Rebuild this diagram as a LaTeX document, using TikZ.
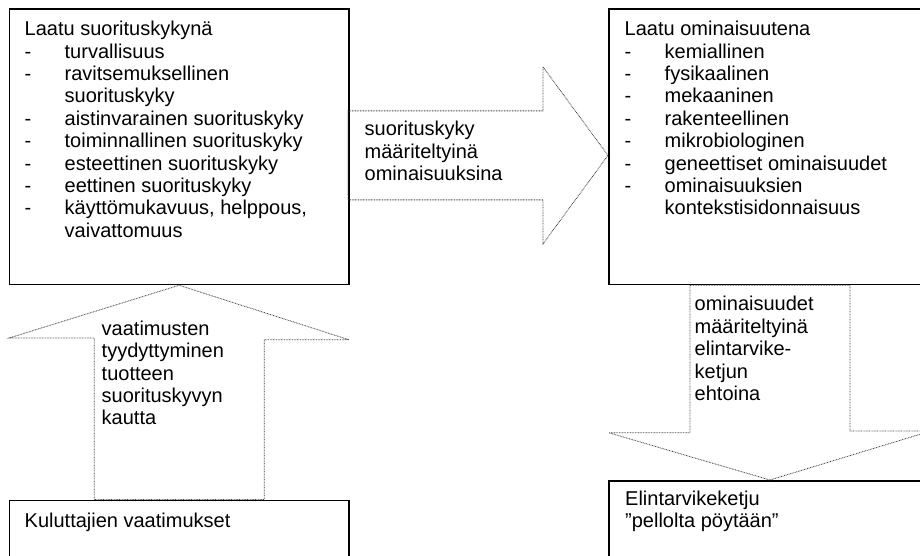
\documentclass[tikz,border=0pt]{standalone}
\usepackage{fontspec}
\setmainfont{Liberation Sans}
\usepackage{tikz}
\usetikzlibrary{calc}
\tikzset{
  qBox/.style={draw=black, line width=1.8pt, inner sep=0pt, anchor=north west},
  qText/.style={font=\fontsize{20}{22.4}\selectfont, align=left, inner sep=0pt, anchor=north west},
  flowArrow/.style={draw=black!75, line width=0.8pt, dash pattern=on 0.8pt off 0.8pt}
}
\newcommand{\dashitem}[1]{\makebox[40pt][l]{-}#1}
\newcommand{\itemcont}[1]{\makebox[40pt][l]{}#1}
\newcommand{\firstline}{\rule{0pt}{16pt}}

\begin{document}
\begin{tikzpicture}[x=1pt,y=1pt]
  \useasboundingbox (0,0) rectangle (920,555);
  \clip (0,0) rectangle (920,555);
  % boxes
  \node[qBox, minimum width=339.5pt, minimum height=275pt] (perf) at (8.5,546.5) {};
  \node[qBox, minimum width=322pt, minimum height=275pt] (prop) at (608,546.5) {};
  \node[qBox, minimum width=339.5pt, minimum height=90pt] (needs) at (8.5,55.5) {};
  \node[qBox, minimum width=322pt, minimum height=100pt] (chain) at (608,75) {};
  \node[qText] (perftext) at (24.5,535.5) {\firstline Laatu suorituskykynä\\
    \dashitem{turvallisuus}\\
    \dashitem{ravitsemuksellinen}\\
    \itemcont{suorituskyky}\\
    \dashitem{aistinvarainen suorituskyky}\\
    \dashitem{toiminnallinen suorituskyky}\\
    \dashitem{esteettinen suorituskyky}\\
    \dashitem{eettinen suorituskyky}\\
    \dashitem{käyttömukavuus, helppous,}\\
    \itemcont{vaivattomuus}};
  \node[qText] (proptext) at (624.5,535.5) {\firstline Laatu ominaisuutena\\
    \dashitem{kemiallinen}\\
    \dashitem{fysikaalinen}\\
    \dashitem{mekaaninen}\\
    \dashitem{rakenteellinen}\\
    \dashitem{mikrobiologinen}\\
    \dashitem{geneettiset ominaisuudet}\\
    \dashitem{ominaisuuksien}\\
    \itemcont{kontekstisidonnaisuus}};
  \node[qText] (needstext) at (24.5,44) {\firstline Kuluttajien vaatimukset};
  \node[qText] (chaintext) at (625,66) {\firstline Elintarvikeketju\\”pellolta pöytään”};
  % block arrows
  \draw[flowArrow] ([yshift=-8.5pt]prop.west) -- ++(-65,88.5) -- ++(0,-44) -- ++(-195,0)
    -- ++(0,-89) -- ++(195,0) -- ++(0,-44) -- cycle;
  \draw[flowArrow] ([xshift=-85pt]needs.north) -- ++(0,161.5) -- ++(-85,0) -- (perf.south)
    -- ++(170,-54.5) -- ++(-85,0) -- ([xshift=85pt]needs.north) -- cycle;
  \draw[flowArrow] ([xshift=-80pt]prop.south) -- ++(0,-147.5) -- ++(-81,0) -- (chain.north)
    -- ++(161,49) -- ++(-81,0) -- ([xshift=80pt]prop.south) -- cycle;
  \node[qText] (perfprop) at (364.5,435.5) {\firstline suorituskyky\\määriteltyinä\\ominaisuuksina};
  \node[qText] (needsperf) at (101.5,236) {\firstline vaatimusten\\tyydyttyminen\\tuotteen\\suorituskyvyn\\kautta};
  \node[qText] (propchain) at (694.5,260.3) {\firstline ominaisuudet\\määriteltyinä\\elintarvike-\\ketjun\\ehtoina};
\end{tikzpicture}
\end{document}
